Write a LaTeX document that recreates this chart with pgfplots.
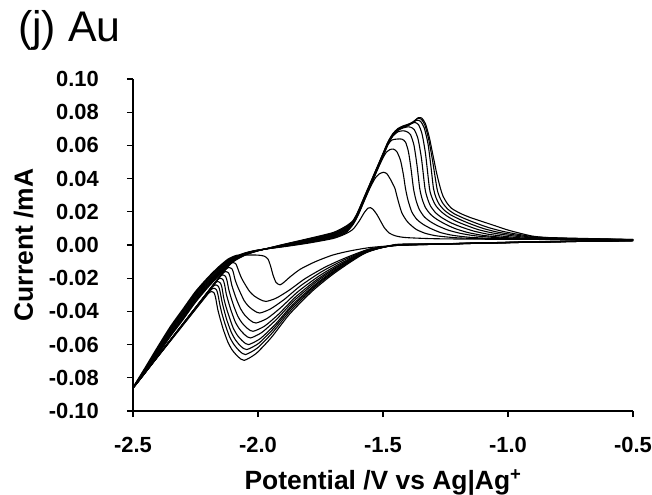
\documentclass[border=0pt]{standalone}
\usepackage{fontspec}
\setmainfont{Liberation Sans}
\usepackage{pgfplots}
\pgfplotsset{compat=1.18}
\begin{document}
\begin{tikzpicture}
\begin{axis}[
  scale only axis, width=500bp, height=332bp,
  xmin=-2.5, xmax=-0.5, ymin=-0.1, ymax=0.1,
  axis x line*=bottom, axis y line*=left,
  axis line style={line width=1.2pt, black, -},
  tick align=outside, major tick length=6bp,
  tick style={line width=1.1pt, black},
  xtick={-2.5,-2,-1.5,-1,-0.5},
  xticklabels={-2.5,-2.0,-1.5,-1.0,-0.5},
  ytick={-0.1,-0.08,-0.06,-0.04,-0.02,0,0.02,0.04,0.06,0.08,0.1},
  yticklabels={-0.10,-0.08,-0.06,-0.04,-0.02,0.00,0.02,0.04,0.06,0.08,0.10},
  scaled ticks=false,
  ticklabel style={font=\fontsize{22}{24}\selectfont\bfseries},
  yticklabel style={anchor=east, inner sep=0pt, xshift=-28bp},
  xticklabel style={anchor=north, inner sep=0pt, yshift=-20bp},
  xlabel={Potential  /V vs Ag|Ag\textsuperscript{+}},
  ylabel={Current /mA},
  x label style={at={(axis description cs:0.5,0)}, anchor=base, yshift=-78bp, inner sep=0pt, font=\fontsize{26.5}{28}\selectfont\bfseries},
  y label style={at={([xshift=-100bp]axis description cs:0,0.5)}, anchor=base, inner sep=0pt, font=\fontsize{26.5}{28}\selectfont\bfseries},
  title={(j) Au},
  title style={at={(axis description cs:0,1)}, anchor=base west, inner sep=0pt, xshift=-115bp, yshift=32bp, font=\fontsize{43}{44}\selectfont},
  cv/.style={black, line width=1.1pt, smooth, tension=0.4},
]
% cycle 1
\addplot[cv] coordinates {(-0.5,0.0027) (-0.7,0.0023) (-0.9,0.0018) (-1.1,0.0012) (-1.3,0.0005) (-1.45,-0.0003) (-1.55,-0.0015) (-1.63,-0.0035) (-1.7,-0.006) (-1.77,-0.0100) (-1.83,-0.0145) (-1.87,-0.019) (-1.895,-0.0223) (-1.912,-0.024) (-1.928,-0.0225) (-1.94,-0.018) (-1.95,-0.0125) (-1.96,-0.0085) (-1.975,-0.0067) (-2.0,-0.0061) (-2.04,-0.006) (-2.085,-0.0062) (-2.12,-0.0085) (-2.16,-0.0135) (-2.2,-0.0195) (-2.25,-0.028) (-2.3,-0.0385) (-2.35,-0.049) (-2.4,-0.061) (-2.45,-0.0735) (-2.5,-0.0858) (-2.45,-0.0738) (-2.4,-0.0615) (-2.35,-0.0496) (-2.3,-0.0392) (-2.25,-0.0287) (-2.2,-0.0201) (-2.15,-0.013) (-2.1,-0.0075) (-2.05,-0.0047) (-2.0,-0.003) (-1.9,-0.0011) (-1.8,0.0011) (-1.7,0.0039) (-1.65,0.0067) (-1.62,0.0095) (-1.595,0.0145) (-1.575,0.0195) (-1.56,0.0222) (-1.55,0.0225) (-1.54,0.0215) (-1.525,0.0185) (-1.51,0.0145) (-1.495,0.0105) (-1.475,0.0072) (-1.45,0.0055) (-1.41,0.0045) (-1.3,0.0038) (-1.1,0.0035) (-0.8,0.0033) (-0.5,0.0032)};
% cycle 2
\addplot[cv] coordinates {(-0.5,0.0026) (-0.7,0.0022) (-0.9,0.0017) (-1.1,0.0011) (-1.3,0.0004) (-1.45,-0.0003) (-1.554,-0.0024) (-1.657,-0.0082) (-1.735,-0.0136) (-1.813,-0.0204) (-1.875,-0.0272) (-1.927,-0.032) (-1.968,-0.034) (-1.992,-0.0328) (-2.017,-0.0305) (-2.035,-0.0277) (-2.053,-0.0234) (-2.066,-0.0199) (-2.075,-0.0166) (-2.084,-0.0129) (-2.09,-0.0111) (-2.101,-0.0105) (-2.113,-0.0116) (-2.13,-0.0147) (-2.2,-0.0282) (-2.3,-0.0475) (-2.4,-0.0668) (-2.5,-0.0862) (-2.45,-0.0741) (-2.4,-0.062) (-2.35,-0.0502) (-2.3,-0.0398) (-2.25,-0.0293) (-2.2,-0.0207) (-2.15,-0.0135) (-2.1,-0.0078) (-2.05,-0.0048) (-2.0,-0.0031) (-1.9,-0.0009) (-1.8,0.0014) (-1.7,0.0043) (-1.65,0.0072) (-1.62,0.0123) (-1.60,0.0178) (-1.58,0.0248) (-1.56,0.0318) (-1.545,0.0365) (-1.53,0.0405) (-1.515,0.0428) (-1.499,0.0438) (-1.485,0.0430) (-1.47,0.0395) (-1.46,0.0365) (-1.452,0.034) (-1.44,0.027) (-1.425,0.0195) (-1.405,0.0145) (-1.385,0.0115) (-1.365,0.0092) (-1.33,0.007) (-1.285,0.0055) (-1.2,0.0043) (-1.05,0.0036) (-0.8,0.0033) (-0.5,0.0032)};
% cycle 3
\addplot[cv] coordinates {(-0.5,0.0026) (-0.7,0.0022) (-0.9,0.0017) (-1.1,0.0011) (-1.3,0.0004) (-1.45,-0.0003) (-1.559,-0.0029) (-1.667,-0.0098) (-1.749,-0.0164) (-1.830,-0.0246) (-1.895,-0.0328) (-1.950,-0.0385) (-1.993,-0.041) (-2.015,-0.0396) (-2.038,-0.0369) (-2.055,-0.0336) (-2.071,-0.0286) (-2.083,-0.0245) (-2.092,-0.0207) (-2.099,-0.0163) (-2.105,-0.0142) (-2.116,-0.0135) (-2.128,-0.0146) (-2.145,-0.0177) (-2.2,-0.0283) (-2.3,-0.0476) (-2.4,-0.0669) (-2.5,-0.0862) (-2.45,-0.0744) (-2.4,-0.0625) (-2.35,-0.0508) (-2.3,-0.0405) (-2.25,-0.03) (-2.2,-0.0213) (-2.15,-0.014) (-2.1,-0.0081) (-2.05,-0.005) (-2.0,-0.0032) (-1.9,-0.0008) (-1.8,0.0017) (-1.7,0.0047) (-1.65,0.0077) (-1.62,0.0126) (-1.60,0.0181) (-1.58,0.0251) (-1.56,0.0321) (-1.54,0.0391) (-1.52,0.0461) (-1.50,0.0525) (-1.487,0.0558) (-1.473,0.0574) (-1.459,0.0578) (-1.445,0.0563) (-1.43,0.051) (-1.418,0.042) (-1.41,0.034) (-1.40,0.027) (-1.385,0.020) (-1.365,0.0155) (-1.34,0.0125) (-1.31,0.010) (-1.27,0.0075) (-1.22,0.0058) (-1.15,0.0046) (-1.05,0.0039) (-0.9,0.0035) (-0.5,0.0032)};
% cycle 4
\addplot[cv] coordinates {(-0.5,0.0026) (-0.7,0.0022) (-0.9,0.0017) (-1.1,0.0011) (-1.3,0.0004) (-1.45,-0.0002) (-1.562,-0.0033) (-1.673,-0.0113) (-1.757,-0.0188) (-1.841,-0.0282) (-1.908,-0.0376) (-1.963,-0.0442) (-2.008,-0.047) (-2.030,-0.0455) (-2.052,-0.0424) (-2.069,-0.0386) (-2.085,-0.0331) (-2.096,-0.0284) (-2.105,-0.0241) (-2.112,-0.0191) (-2.118,-0.0168) (-2.129,-0.016) (-2.141,-0.0171) (-2.158,-0.0202) (-2.2,-0.0283) (-2.3,-0.0476) (-2.4,-0.0669) (-2.5,-0.0862) (-2.45,-0.0747) (-2.4,-0.063) (-2.35,-0.0514) (-2.3,-0.0411) (-2.25,-0.0306) (-2.2,-0.0219) (-2.15,-0.0145) (-2.1,-0.0084) (-2.05,-0.0051) (-2.0,-0.0032) (-1.9,-0.0006) (-1.8,0.002) (-1.7,0.0051) (-1.65,0.0082) (-1.62,0.0129) (-1.60,0.0184) (-1.58,0.0254) (-1.56,0.0324) (-1.54,0.0394) (-1.52,0.0464) (-1.50,0.0534) (-1.48,0.0604) (-1.465,0.0632) (-1.445,0.0638) (-1.425,0.0638) (-1.41,0.062) (-1.398,0.056) (-1.388,0.046) (-1.378,0.034) (-1.368,0.027) (-1.355,0.0215) (-1.335,0.017) (-1.31,0.014) (-1.28,0.0115) (-1.24,0.009) (-1.19,0.007) (-1.13,0.0055) (-1.05,0.0045) (-0.95,0.0038) (-0.5,0.0032)};
% cycle 5
\addplot[cv] coordinates {(-0.5,0.0027) (-0.7,0.0023) (-0.9,0.0018) (-1.1,0.0012) (-1.3,0.0005) (-1.45,-0.0002) (-1.564,-0.0036) (-1.678,-0.0125) (-1.764,-0.0208) (-1.849,-0.0312) (-1.917,-0.0416) (-1.974,-0.0489) (-2.02,-0.052) (-2.042,-0.0503) (-2.064,-0.0469) (-2.081,-0.0428) (-2.097,-0.0367) (-2.108,-0.0316) (-2.117,-0.0268) (-2.124,-0.0214) (-2.13,-0.0189) (-2.141,-0.018) (-2.153,-0.0191) (-2.17,-0.0222) (-2.2,-0.0280) (-2.3,-0.0474) (-2.4,-0.0668) (-2.5,-0.0862) (-2.45,-0.075) (-2.4,-0.0635) (-2.35,-0.052) (-2.3,-0.0418) (-2.25,-0.0313) (-2.2,-0.0225) (-2.15,-0.015) (-2.1,-0.0087) (-2.05,-0.0053) (-2.0,-0.0033) (-1.9,-0.0005) (-1.8,0.0023) (-1.7,0.0055) (-1.65,0.0087) (-1.62,0.0132) (-1.60,0.0187) (-1.58,0.0257) (-1.56,0.0327) (-1.54,0.0397) (-1.52,0.0467) (-1.50,0.0537) (-1.48,0.0607) (-1.46,0.0657) (-1.44,0.0682) (-1.42,0.0688) (-1.405,0.0683) (-1.39,0.0665) (-1.376,0.060) (-1.364,0.048) (-1.353,0.034) (-1.343,0.0275) (-1.33,0.0225) (-1.31,0.0185) (-1.285,0.0155) (-1.25,0.0125) (-1.21,0.0098) (-1.16,0.0075) (-1.10,0.0058) (-1.02,0.0046) (-0.92,0.0038) (-0.5,0.0032)};
% cycle 6
\addplot[cv] coordinates {(-0.5,0.0027) (-0.7,0.0023) (-0.9,0.0018) (-1.1,0.0012) (-1.3,0.0005) (-1.45,-0.0001) (-1.566,-0.0039) (-1.682,-0.0134) (-1.769,-0.0224) (-1.856,-0.0336) (-1.926,-0.0448) (-1.984,-0.0526) (-2.03,-0.056) (-2.052,-0.0542) (-2.074,-0.0506) (-2.091,-0.0463) (-2.107,-0.0398) (-2.118,-0.0344) (-2.127,-0.0294) (-2.134,-0.0236) (-2.14,-0.0209) (-2.151,-0.020) (-2.163,-0.0211) (-2.18,-0.0242) (-2.3,-0.0475) (-2.4,-0.0669) (-2.5,-0.0862) (-2.45,-0.0753) (-2.4,-0.064) (-2.35,-0.0526) (-2.3,-0.0424) (-2.25,-0.0319) (-2.2,-0.0231) (-2.15,-0.0155) (-2.1,-0.009) (-2.05,-0.0054) (-2.0,-0.0033) (-1.9,-0.0003) (-1.8,0.0026) (-1.7,0.0059) (-1.65,0.0092) (-1.62,0.0135) (-1.60,0.019) (-1.58,0.026) (-1.56,0.033) (-1.54,0.040) (-1.52,0.047) (-1.50,0.054) (-1.48,0.061) (-1.46,0.066) (-1.44,0.069) (-1.42,0.0705) (-1.40,0.0712) (-1.39,0.0710) (-1.375,0.0695) (-1.36,0.064) (-1.346,0.052) (-1.332,0.034) (-1.322,0.028) (-1.31,0.0235) (-1.29,0.0195) (-1.265,0.0165) (-1.23,0.0135) (-1.19,0.011) (-1.14,0.0085) (-1.08,0.0065) (-1.0,0.005) (-0.9,0.004) (-0.5,0.0032)};
% cycle 7
\addplot[cv] coordinates {(-0.5,0.0027) (-0.7,0.0023) (-0.9,0.0018) (-1.1,0.0012) (-1.3,0.0005) (-1.45,-0.0001) (-1.568,-0.0042) (-1.685,-0.0144) (-1.773,-0.024) (-1.862,-0.036) (-1.932,-0.048) (-1.991,-0.0564) (-2.038,-0.060) (-2.060,-0.0581) (-2.083,-0.0543) (-2.100,-0.0497) (-2.116,-0.0429) (-2.128,-0.0372) (-2.137,-0.0319) (-2.144,-0.0258) (-2.15,-0.023) (-2.161,-0.022) (-2.173,-0.0231) (-2.19,-0.0262) (-2.3,-0.0475) (-2.4,-0.0668) (-2.5,-0.0862) (-2.45,-0.0756) (-2.4,-0.0645) (-2.35,-0.0532) (-2.3,-0.0431) (-2.25,-0.0326) (-2.2,-0.0237) (-2.15,-0.016) (-2.1,-0.0093) (-2.05,-0.0056) (-2.0,-0.0034) (-1.9,-0.0002) (-1.8,0.0029) (-1.7,0.0063) (-1.65,0.0097) (-1.62,0.0138) (-1.60,0.0193) (-1.58,0.0263) (-1.56,0.0333) (-1.54,0.0403) (-1.52,0.0473) (-1.50,0.0543) (-1.48,0.0613) (-1.46,0.0663) (-1.44,0.0693) (-1.42,0.0708) (-1.40,0.0718) (-1.385,0.0733) (-1.372,0.0738) (-1.358,0.0725) (-1.344,0.067) (-1.33,0.055) (-1.314,0.034) (-1.304,0.0285) (-1.29,0.024) (-1.27,0.0205) (-1.245,0.0175) (-1.21,0.0145) (-1.17,0.012) (-1.12,0.0093) (-1.06,0.0072) (-0.98,0.0055) (-0.88,0.0042) (-0.5,0.0032)};
% cycle 8
\addplot[cv] coordinates {(-0.5,0.0027) (-0.7,0.0023) (-0.9,0.0018) (-1.1,0.0012) (-1.3,0.0005) (-1.45,0.0) (-1.569,-0.0044) (-1.688,-0.0151) (-1.777,-0.0252) (-1.867,-0.0378) (-1.938,-0.0504) (-1.997,-0.0592) (-2.045,-0.063) (-2.068,-0.0611) (-2.090,-0.0572) (-2.107,-0.0525) (-2.124,-0.0455) (-2.135,-0.0396) (-2.144,-0.0341) (-2.152,-0.0279) (-2.158,-0.025) (-2.169,-0.024) (-2.181,-0.0251) (-2.198,-0.0282) (-2.3,-0.0478) (-2.4,-0.067) (-2.5,-0.0862) (-2.45,-0.0759) (-2.4,-0.065) (-2.35,-0.0538) (-2.3,-0.0437) (-2.25,-0.0332) (-2.2,-0.0243) (-2.15,-0.0165) (-2.1,-0.0096) (-2.05,-0.0057) (-2.0,-0.0034) (-1.9,0.0) (-1.8,0.0032) (-1.7,0.0067) (-1.65,0.0102) (-1.62,0.0141) (-1.60,0.0196) (-1.58,0.0266) (-1.56,0.0336) (-1.54,0.0406) (-1.52,0.0476) (-1.50,0.0546) (-1.48,0.0616) (-1.46,0.0666) (-1.44,0.0696) (-1.42,0.0711) (-1.40,0.0721) (-1.38,0.0736) (-1.366,0.0752) (-1.35,0.0745) (-1.335,0.0705) (-1.32,0.061) (-1.308,0.047) (-1.298,0.034) (-1.288,0.0285) (-1.275,0.0245) (-1.255,0.021) (-1.23,0.0182) (-1.19,0.0152) (-1.15,0.0127) (-1.10,0.010) (-1.04,0.0077) (-0.96,0.0058) (-0.87,0.0044) (-0.5,0.0032)};
% cycle 9
\addplot[cv] coordinates {(-0.5,0.0028) (-0.7,0.0024) (-0.9,0.0019) (-1.1,0.0013) (-1.3,0.0005) (-1.45,0.0) (-1.57,-0.0046) (-1.69,-0.0158) (-1.78,-0.0264) (-1.87,-0.0396) (-1.942,-0.0528) (-2.002,-0.062) (-2.05,-0.066) (-2.073,-0.064) (-2.096,-0.060) (-2.114,-0.0552) (-2.131,-0.048) (-2.143,-0.042) (-2.152,-0.0364) (-2.16,-0.030) (-2.166,-0.027) (-2.177,-0.026) (-2.189,-0.0271) (-2.206,-0.0302) (-2.3,-0.0481) (-2.4,-0.0671) (-2.5,-0.0862) (-2.45,-0.0762) (-2.4,-0.0655) (-2.35,-0.0544) (-2.3,-0.0444) (-2.25,-0.0339) (-2.2,-0.0249) (-2.15,-0.017) (-2.1,-0.0099) (-2.05,-0.0059) (-2.0,-0.0035) (-1.9,0.0002) (-1.8,0.0035) (-1.7,0.0071) (-1.65,0.0107) (-1.62,0.0144) (-1.60,0.0199) (-1.58,0.0269) (-1.56,0.0339) (-1.54,0.0409) (-1.52,0.0479) (-1.50,0.0549) (-1.48,0.0619) (-1.46,0.0669) (-1.44,0.0699) (-1.42,0.0714) (-1.40,0.0724) (-1.38,0.0739) (-1.362,0.0762) (-1.347,0.0758) (-1.332,0.072) (-1.317,0.0635) (-1.302,0.051) (-1.284,0.034) (-1.274,0.029) (-1.26,0.025) (-1.24,0.0215) (-1.215,0.0188) (-1.175,0.016) (-1.13,0.0133) (-1.08,0.0106) (-1.02,0.0082) (-0.95,0.0062) (-0.86,0.0046) (-0.5,0.0033)};
% cycle 10
\addplot[cv] coordinates {(-0.5,0.0028) (-0.7,0.0024) (-0.9,0.0019) (-1.1,0.0013) (-1.3,0.0006) (-1.45,0.0003) (-1.571,-0.0049) (-1.692,-0.0167) (-1.783,-0.0278) (-1.874,-0.0417) (-1.946,-0.0556) (-2.007,-0.0653) (-2.055,-0.0695) (-2.079,-0.0674) (-2.103,-0.0633) (-2.121,-0.0583) (-2.139,-0.0508) (-2.151,-0.0446) (-2.161,-0.0388) (-2.169,-0.0322) (-2.175,-0.029) (-2.186,-0.028) (-2.198,-0.0291) (-2.215,-0.0322) (-2.3,-0.0483) (-2.4,-0.0672) (-2.5,-0.0862) (-2.45,-0.0765) (-2.4,-0.066) (-2.35,-0.055) (-2.3,-0.045) (-2.25,-0.0345) (-2.2,-0.0255) (-2.15,-0.0175) (-2.1,-0.0102) (-2.05,-0.006) (-2.0,-0.0035) (-1.9,0.0003) (-1.8,0.0038) (-1.7,0.0075) (-1.65,0.0112) (-1.62,0.0147) (-1.60,0.0202) (-1.58,0.0272) (-1.56,0.0342) (-1.54,0.0412) (-1.52,0.0482) (-1.50,0.0552) (-1.48,0.0622) (-1.46,0.0672) (-1.44,0.0702) (-1.42,0.0717) (-1.40,0.0727) (-1.38,0.0742) (-1.365,0.076) (-1.359,0.0767) (-1.345,0.0765) (-1.33,0.073) (-1.315,0.065) (-1.30,0.054) (-1.285,0.043) (-1.27,0.034) (-1.26,0.0295) (-1.245,0.0255) (-1.225,0.022) (-1.19,0.019) (-1.15,0.0165) (-1.11,0.0145) (-1.05,0.0115) (-1.0,0.009) (-0.95,0.007) (-0.9,0.0053) (-0.84,0.0044) (-0.75,0.0037) (-0.5,0.0033)};
\end{axis}
\pgfresetboundingbox
\path[use as bounding box] (-133bp,-84bp) rectangle (519bp,411bp);
\end{tikzpicture}
\end{document}
